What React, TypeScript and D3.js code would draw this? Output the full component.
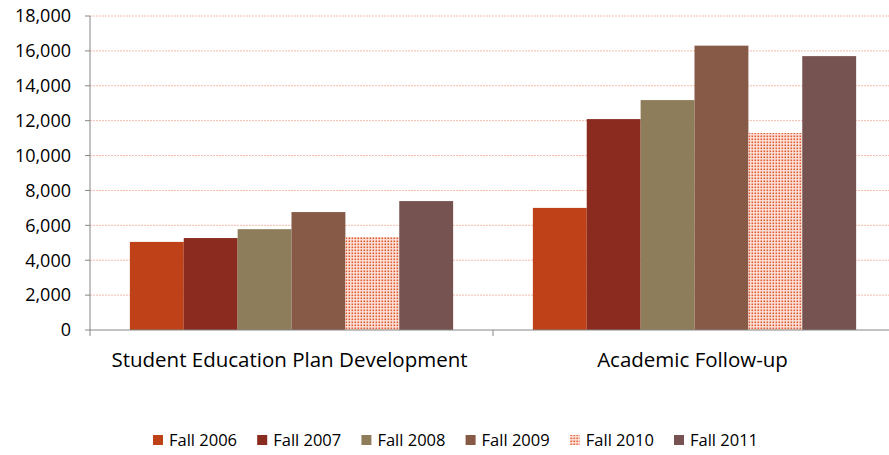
import React from 'react';
import * as d3 from 'd3';

const categories = ['Student Education Plan Development', 'Academic Follow-up'];
const seriesNames = ['Fall 2006', 'Fall 2007', 'Fall 2008', 'Fall 2009', 'Fall 2010', 'Fall 2011'];
const seriesColors = ['#BE4117', '#8B2A1F', '#8E7D5B', '#865A46', 'url(#dots)', '#765351'];
const fall2006 = [5050, 7000];
const fall2007 = [5270, 12090];
const fall2008 = [5780, 13180];
const fall2009 = [6760, 16300];
const fall2010 = [5330, 11290];
const fall2011 = [7390, 15700];
const yTicks = [0, 2000, 4000, 6000, 8000, 10000, 12000, 14000, 16000, 18000];

const series = [fall2006, fall2007, fall2008, fall2009, fall2010, fall2011];

const W = 889;
const H = 455;
const margin = { top: 16, bottom: 125, left: 90 };

const App = () => {
  // plot area runs a little past the right edge of the picture
  const x0 = d3.scaleBand<string>()
    .domain(categories)
    .range([margin.left, 896]);
  const x1 = d3.scaleBand<string>()
    .domain(seriesNames)
    .range([0, x0.bandwidth()])
    .paddingOuter(0.74);
  const y = d3.scaleLinear().domain([0, 18000]).range([H - margin.bottom, margin.top]);
  const fmt = d3.format(',');
  const font = "'Open Sans', 'Liberation Sans', sans-serif";

  const legendX = d3.scalePoint<string>().domain(seriesNames).range([153, 674]);

  return (
    <svg width={W} height={H} style={{ position: 'absolute', left: 0, top: 0 }}>
      <defs>
        <pattern id="dots" width="3" height="3" patternUnits="userSpaceOnUse">
          <rect width="3" height="3" fill="#FBE3DA" />
          <rect x="0.5" y="0.5" width="1.6" height="1.6" fill="#E4582F" />
        </pattern>
      </defs>
      {yTicks.filter(t => t > 0).map(t => (
        <line key={t} x1={margin.left} x2={W} y1={y(t)} y2={y(t)}
          stroke="#F4BBAA" strokeWidth={1} strokeDasharray="2,1" />
      ))}
      {categories.map((c, ci) => (
        <g key={c} transform={`translate(${x0(c)},0)`}>
          {seriesNames.map((s, si) => (
            <rect key={s} x={x1(s)} width={x1.bandwidth()} y={y(series[si][ci])}
              height={y(0) - y(series[si][ci])} fill={seriesColors[si]} />
          ))}
        </g>
      ))}
      <line x1={margin.left} x2={margin.left} y1={margin.top} y2={y(0)} stroke="#868686" />
      <line x1={margin.left} x2={W} y1={y(0)} y2={y(0)} stroke="#868686" />
      {yTicks.map(t => (
        <g key={t}>
          <line x1={margin.left - 5} x2={margin.left} y1={y(t)} y2={y(t)} stroke="#868686" />
          <text x={71} y={y(t)} dy="0.35em" textAnchor="end" fontFamily={font} fontSize={18} fill="#000">{fmt(t)}</text>
        </g>
      ))}
      {[margin.left, (x0(categories[1]) as number)].map((v, i) => (
        <line key={i} x1={v} x2={v} y1={y(0)} y2={y(0) + 6} stroke="#868686" />
      ))}
      {categories.map(c => (
        <text key={c} x={(x0(c) as number) + x0.bandwidth() / 2 - 2} y={367} textAnchor="middle"
          fontFamily={font} fontSize={20.5} fill="#000">{c}</text>
      ))}
      {seriesNames.map((s, si) => (
        <g key={s} transform={`translate(${legendX(s)},440)`}>
          <rect x={0} y={-5} width={10} height={10} fill={seriesColors[si]} />
          <text x={16} y={0} dy="0.35em" fontFamily={font} fontSize={16.5} fill="#000">{s}</text>
        </g>
      ))}
    </svg>
  );
};

export default App;
